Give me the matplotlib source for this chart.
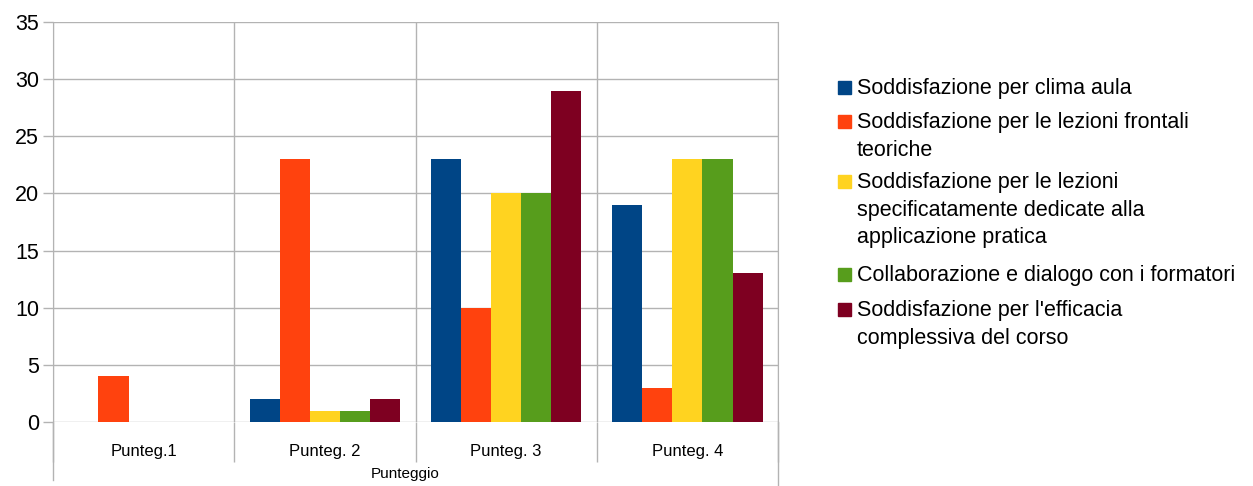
import numpy as np
import matplotlib
matplotlib.use('Agg')
import matplotlib.pyplot as plt
from matplotlib.patches import Rectangle

plt.rcParams['font.family'] = ['Liberation Sans', 'DejaVu Sans']

#%% data
categories = ['Punteg.1', 'Punteg. 2', 'Punteg. 3', 'Punteg. 4']
series_names = ['Soddisfazione per clima aula',
                'Soddisfazione per le lezioni frontali\nteoriche',
                'Soddisfazione per le lezioni\nspecificatamente dedicate alla\napplicazione pratica',
                'Collaborazione e dialogo con i formatori',
                "Soddisfazione per l'efficacia\ncomplessiva del corso"]
clima = [0, 2, 23, 19]
frontali = [4, 23, 10, 3]
pratica = [0, 1, 20, 23]
collaborazione = [0, 1, 20, 23]
efficacia = [0, 2, 29, 13]
colors = ['#004586', '#ff420e', '#ffd320', '#579d1c', '#7e0021']

#%% plot
W, H = 1253, 486
fig = plt.figure(figsize=(W/100, H/100), dpi=100)
ax = fig.add_axes([53/W, 1-422/H, (778-53)/W, 400/H])

grey = '#b3b3b3'
x = np.arange(len(categories))
bw = 0.166
allser = [clima, frontali, pratica, collaborazione, efficacia]
for i, (vals, c) in enumerate(zip(allser, colors)):
    ax.bar(x + (i-2)*bw, vals, width=bw, color=c, linewidth=0, zorder=3)

ax.set_xlim(-0.5, 3.5)
ax.set_ylim(0, 35)
ax.set_yticks(np.arange(0, 36, 5))
ax.yaxis.grid(True, color=grey, linewidth=1)
ax.set_axisbelow(True)
ax.tick_params(axis='y', length=7, width=1, color=grey, labelsize=15.5, pad=3)

ax.set_xticks(x)
ax.set_xticklabels(categories, fontsize=12)
ax.tick_params(axis='x', length=0, pad=16)
# category separators below the axis
ax.set_xticks(np.arange(-0.5, 4, 1), minor=True)
ax.tick_params(axis='x', which='minor', length=29, width=1, color=grey, direction='out')
ax.xaxis.grid(True, which='minor', color=grey, linewidth=1)
ax.plot([-0.5, -0.5], [0, -0.145], transform=ax.get_xaxis_transform(),
        color=grey, lw=1, clip_on=False)
ax.plot([3.5, 3.5], [0, -0.16], transform=ax.get_xaxis_transform(),
        color=grey, lw=1, clip_on=False)

for s in ['top', 'bottom']:
    ax.spines[s].set_visible(False)
for s in ['left', 'right']:
    ax.spines[s].set_color(grey)

ax.set_xlabel('Punteggio', fontsize=11)
ax.xaxis.set_label_coords((405-53)/725, -0.112)

# legend, drawn by hand so the swatch sits on the first line
ly = [88, 122, 182, 275, 310]
for name, c, y in zip(series_names, colors, ly):
    fig.patches.append(Rectangle((838/W, 1-(y+6)/H), 13/W, 13/H, color=c,
                                 transform=fig.transFigure, figure=fig))
    fig.text(857/W, 1-(y-10)/H, name, fontsize=15.5, va='top', ha='left',
             linespacing=1.42)

plt.savefig('out.png', dpi=100)
